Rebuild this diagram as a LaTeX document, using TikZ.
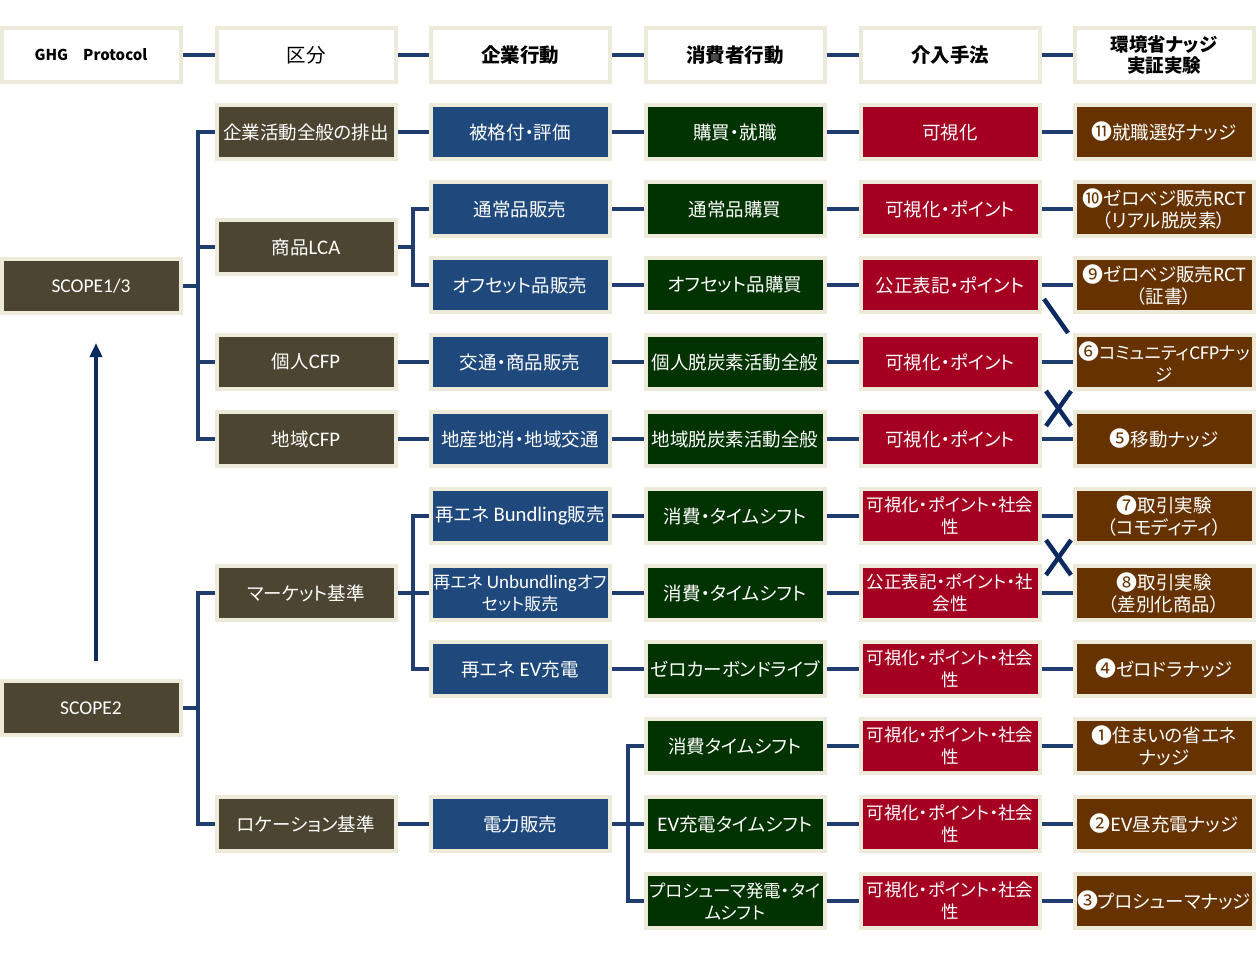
\documentclass[tikz,border=0pt]{standalone}
\usepackage{fontspec}
\setmainfont{Noto Sans CJK JP}[RawFeature=+palt]
\newfontfamily\calib{Carlito}
\newfontfamily\calibL{Carlito}[Scale=1.12]
\newcommand\lat[1]{{\calibL #1}}
\newcommand\cn[1]{{\fontsize{21}{21}\selectfont\raisebox{-0.5pt}{#1}}}
\usetikzlibrary{arrows.meta}
\definecolor{olivebox}{HTML}{4C4531}
\definecolor{bluebox}{HTML}{1F497D}
\definecolor{greenbox}{HTML}{003300}
\definecolor{redbox}{HTML}{A50021}
\definecolor{brownbox}{HTML}{663300}
\definecolor{rim}{HTML}{EEEAD9}
\definecolor{connc}{HTML}{1F3D6E}
\definecolor{markc}{HTML}{0C2A60}
\tikzset{
  box/.style={minimum width=179pt, minimum height=54pt, line width=4pt, draw=rim,
    inner sep=0pt, text=white, align=center, font=\fontsize{18.5}{22}\selectfont},
  tight/.style={font=\fontsize{17.5}{22}\selectfont},
  hdr/.style={box, fill=white, text=black, font=\fontsize{19.5}{21}\selectfont\bfseries},
  ol/.style={box, fill=olivebox},
  bl/.style={box, fill=bluebox},
  gr/.style={box, fill=greenbox},
  rd/.style={box, fill=redbox},
  br/.style={box, fill=brownbox},
  conn/.style={draw=connc, line width=4.5pt},
  markline/.style={draw=markc, line width=4.5pt},
  uparrow/.style={draw=markc, line width=4pt, -{Triangle[width=12pt,length=14pt]}}
}
\begin{document}
\begin{tikzpicture}[x=1pt,y=-1pt]
\useasboundingbox (0,0) rectangle (1260,957);
\fill[white] (0,0) rectangle (1260,957);
% header
\node[hdr, font=\fontsize{15}{18}\selectfont\bfseries] (h0) at (91,55) {GHG\quad Protocol};
\node[hdr, font=\fontsize{19.5}{21}\selectfont] (h1) at (306,55) {区分};
\node[hdr] (h2) at (520,55) {企業行動};
\node[hdr] (h3) at (735,55) {消費者行動};
\node[hdr] (h4) at (950,55) {介入手法};
\node[hdr, font=\fontsize{18.5}{21}\selectfont\bfseries] (h5) at (1164,55) {環境省ナッジ\\実証実験};
\foreach \a/\b in {h0/h1,h1/h2,h2/h3,h3/h4,h4/h5} \draw[conn] (\a.east) -- (\b.west);
% column 0
\node[ol, font=\fontsize{19.5}{22}\selectfont\calib] (s13) at (91,286) {SCOPE1/3};
\node[ol, font=\fontsize{19.5}{22}\selectfont\calib] (s2) at (91,708) {SCOPE2};
% column 1
\node[ol] (c1a) at (306,132) {企業活動全般の排出};
\node[ol] (c1b) at (306,247) {商品\lat{LCA}};
\node[ol] (c1c) at (306,362) {個人\lat{CFP}};
\node[ol] (c1d) at (306,439) {地域\lat{CFP}};
\node[ol] (c1e) at (306,593) {マーケット基準};
\node[ol] (c1f) at (306,824) {ロケーション基準};
% column 2
\node[bl] (c2a) at (520,132) {被格付・評価};
\node[bl] (c2b) at (520,209) {通常品販売};
\node[bl] (c2c) at (520,285) {オフセット品販売};
\node[bl] (c2d) at (520,362) {交通・商品販売};
\node[bl] (c2e) at (520,439) {地産地消・地域交通};
\node[bl] (c2f) at (520,516) {再エネ \lat{Bundling}販売};
\node[bl, font=\fontsize{17}{22}\selectfont] (c2g) at (520,593) {再エネ \lat{Unbundling}オフ\\セット販売};
\node[bl] (c2h) at (520,669) {再エネ \lat{EV}充電};
\node[bl] (c2i) at (520,824) {電力販売};
% column 3
\node[gr] (c3a) at (735,132) {購買・就職};
\node[gr] (c3b) at (735,209) {通常品購買};
\node[gr] (c3c) at (735,285) {オフセット品購買};
\node[gr] (c3d) at (735,362) {個人脱炭素活動全般};
\node[gr] (c3e) at (735,439) {地域脱炭素活動全般};
\node[gr] (c3f) at (735,516) {消費・タイムシフト};
\node[gr] (c3g) at (735,593) {消費・タイムシフト};
\node[gr] (c3h) at (735,669) {ゼロカーボンドライブ};
\node[gr] (c3i) at (735,746) {消費タイムシフト};
\node[gr] (c3j) at (735,824) {\lat{EV}充電タイムシフト};
\node[gr, tight] (c3k) at (735,901) {プロシューマ発電・タイ\\ムシフト};
% column 4
\node[rd] (c4a) at (950,132) {可視化};
\node[rd] (c4b) at (950,209) {可視化・ポイント};
\node[rd] (c4c) at (950,285) {公正表記・ポイント};
\node[rd] (c4d) at (950,362) {可視化・ポイント};
\node[rd] (c4e) at (950,439) {可視化・ポイント};
\node[rd, tight] (c4f) at (950,516) {可視化・ポイント・社会\\性};
\node[rd, tight] (c4g) at (950,593) {公正表記・ポイント・社\\会性};
\node[rd, tight] (c4h) at (950,669) {可視化・ポイント・社会\\性};
\node[rd, tight] (c4i) at (950,746) {可視化・ポイント・社会\\性};
\node[rd, tight] (c4j) at (950,824) {可視化・ポイント・社会\\性};
\node[rd, tight] (c4k) at (950,901) {可視化・ポイント・社会\\性};
% column 5
\node[br] (c5a) at (1164,132) {\cn{⓫}就職選好ナッジ};
\node[br] (c5b) at (1164,209) {\cn{❿}ゼロベジ販売\lat{RCT}\\（リアル脱炭素）};
\node[br] (c5c) at (1164,285) {\cn{❾}ゼロベジ販売\lat{RCT}\\（証書）};
\node[br, tight] (c5d) at (1164,362) {\cn{❻}コミュニティ\lat{CFP}ナッ\\ジ};
\node[br] (c5e) at (1164,439) {\cn{❺}移動ナッジ};
\node[br] (c5f) at (1164,516) {\cn{❼}取引実験\\（コモディティ）};
\node[br] (c5g) at (1164,593) {\cn{❽}取引実験\\（差別化商品）};
\node[br] (c5h) at (1164,669) {\cn{❹}ゼロドラナッジ};
\node[br] (c5i) at (1164,746) {\cn{❶}住まいの省エネ\\ナッジ};
\node[br] (c5j) at (1164,824) {\cn{❷}\lat{EV}昼充電ナッジ};
\node[br] (c5k) at (1164,901) {\cn{❸}プロシューマナッジ};
% junctions
\coordinate (j1) at (198,286);
\coordinate (j2) at (413,247);
\coordinate (j3) at (198,708);
\coordinate (j4) at (413,593);
\coordinate (j5) at (628,824);
% trees
\draw[conn] (s13.east) -- (j1);
\draw[conn] (c1a.west) -| (j1) |- (c1d.west);
\draw[conn] (c1b.west) -- (j1 |- c1b.west);
\draw[conn] (c1c.west) -- (j1 |- c1c.west);
\draw[conn] (c1b.east) -- (j2);
\draw[conn] (c2b.west) -| (j2) |- (c2c.west);
\draw[conn] (s2.east) -- (j3);
\draw[conn] (c1e.west) -| (j3) |- (c1f.west);
\draw[conn] (c1e.east) -- (c2g.west);
\draw[conn] (c2f.west) -| (j4) |- (c2h.west);
\draw[conn] (c1f.east) -- (c2i.west);
\draw[conn] (c2i.east) -- (c3j.west);
\draw[conn] (c3i.west) -| (j5) |- (c3k.west);
\draw[conn] (c1a.east) -- (c2a.west);
\draw[conn] (c1c.east) -- (c2d.west);
\draw[conn] (c1d.east) -- (c2e.west);
\foreach \r in {a,b,c,d,e,f,g,h} \draw[conn] (c2\r.east) -- (c3\r.west);
\foreach \r in {a,b,c,d,e,f,g,h,i,j,k} {
  \draw[conn] (c3\r.east) -- (c4\r.west);
  \draw[conn] (c4\r.east) -- (c5\r.west);
}
% marks
\coordinate (m1a) at (1044,299); \coordinate (m1b) at (1068,333);
\draw[markline] (m1a) -- (m1b);
\coordinate (x1a) at (1046,391); \coordinate (x1b) at (1071,426);
\coordinate (x1c) at (1071,391); \coordinate (x1d) at (1046,426);
\draw[markline] (x1a) -- (x1b); \draw[markline] (x1c) -- (x1d);
\coordinate (x2a) at (1046,540); \coordinate (x2b) at (1071,575);
\coordinate (x2c) at (1071,540); \coordinate (x2d) at (1046,575);
\draw[markline] (x2a) -- (x2b); \draw[markline] (x2c) -- (x2d);
% arrow
\draw[uparrow] ([xshift=5pt,yshift=18pt]s2.north) -- ([xshift=5pt,yshift=-28pt]s13.south);
\end{tikzpicture}
\end{document}
